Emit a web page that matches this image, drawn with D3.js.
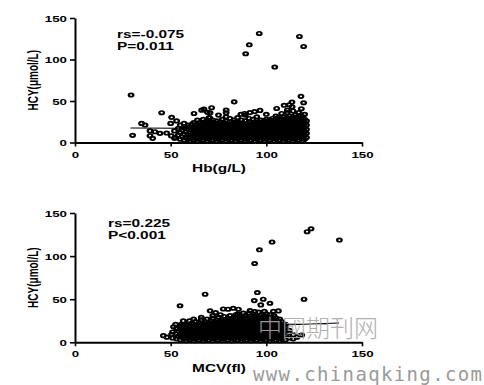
<!DOCTYPE html>
<html><head><meta charset="utf-8">
<script src="https://cdn.jsdelivr.net/npm/d3@7/dist/d3.min.js"></script>
<style>body{margin:0;background:#fff}svg{display:block}</style>
</head><body>
<script>
const xTicks = [0, 50, 100, 150];
const yTicks = [0, 50, 100, 150];

// Panel 1: Hb (g/L) vs HCY (µmol/L) — dense cluster, grouped by Hb value
const hbCluster = [
 [52,[5,14]],[54,[9,17]],[55,[4,12,21]],[56,[7,15]],[57,[3,10,18,23]],[58,[6,13,19]],
 [59,[4,9,16,21]],[60,[2,7,12,18]],[61,[5,10,15,22]],[62,[3,8,13,19,24]],[63,[6,11,16,21]],
 [64,[2,7,12,17,22,27]],[65,[4,9,14,19,24]],[66,[6,10,15,20]],[67,[3,8,13,18,23,28]],
 [68,[5,10,14,19,25]],[69,[2,7,12,17,21]],[70,[4,9,14,18,23,30]],[71,[6,11,15,20,25]],
 [72,[3,8,13,17,22,27]],[73,[5,10,14,19,24]],[74,[2,7,12,16,21,26]],[75,[4,9,13,18,23,33]],
 [76,[6,11,15,20,25]],[77,[3,8,12,17,22,28]],[78,[5,10,14,19,24]],[79,[2,7,11,16,21,26,31]],
 [80,[4,9,13,18,23]],[81,[6,11,15,20,25,29]],[82,[3,8,12,17,22]],[83,[5,10,14,19,24,27]],
 [84,[2,7,11,16,21,25]],[85,[4,9,13,18,23,30]],[86,[6,11,15,20,24]],[87,[3,8,12,17,22,27]],
 [88,[5,10,14,19,23]],[89,[2,7,11,16,21,26,33]],[90,[4,9,13,18,23]],[91,[6,11,15,20,25,29]],
 [92,[3,8,12,17,22]],[93,[5,10,14,19,24,28]],[94,[2,7,11,16,21,25]],[95,[4,9,13,18,23,31]],
 [96,[6,11,15,20,25]],[97,[3,8,12,17,22,27]],[98,[5,10,14,19,24]],[99,[2,7,11,16,21,26]],
 [100,[4,9,13,18,23,28,34]],[101,[6,11,15,20,25]],[102,[3,8,12,17,22,27]],[103,[5,10,14,19,24,29]],
 [104,[2,7,11,16,21,26]],[105,[4,9,13,18,23,28,32]],[106,[6,11,15,20,25,30]],[107,[3,8,12,17,22,27]],
 [108,[5,10,14,19,24,29,35]],[109,[2,7,11,16,21,26,31]],[110,[4,9,13,18,23,28]],
 [111,[6,11,15,20,25,30,36]],[112,[3,8,12,17,22,27,32]],[113,[5,10,14,19,24,29]],
 [114,[2,7,11,16,21,26,31,38]],[115,[4,9,13,18,23,28,33]],[116,[6,11,15,20,25,30]],
 [117,[3,8,12,17,22,27,32,36]],[118,[5,10,14,19,24,29,33]],[119,[2,7,11,16,21,26,31]],
 [120,[4,9,13,18,23,28,34]],[121,[6,11,16,21,26]]
];
const hbOutliers = [
 [29.3,57.2],[30.1,8.6],[34.8,23],[36.6,21],[39.2,14],[41.8,13],[44.4,11],[40.6,5],[39.2,8.2],
 [45.3,35.9],[47.9,11.4],[50.3,8],[50,23],[50.5,30.3],[53.1,26],[52.5,6],
 [62.2,35],[66.2,39],[67.4,40.3],[71.4,41.9],[69.2,36.3],[70.6,35.9],[70.4,29.9],[69.5,27.1],
 [79,39],[79,35.9],[83.2,49],[86.7,34],[88.6,35],[91.4,36],[93.9,37.3],[96.7,38.7],
 [105.4,41],[109.3,44.8],[111,39],[112,45.5],[113.4,48.7],[113.5,43],[118.3,40.7],
 [118.1,55.6],[119.5,47.9],[89.2,106.9],[91.1,117.7],[96.3,131.4],[117.3,127.8],
 [119.5,115.7],[104.4,90.9]
];
const hbFit = [[29, 17.5], [121, 16.3]];

// Panel 2: MCV (fl) vs HCY (µmol/L)
const mcvCluster = [
 [48,[6]],[51,[5,12]],[53,[4,10,16]],[54,[7,13]],[55,[3,9,15,19]],[56,[6,12,17]],
 [57,[4,9,14,20]],[58,[2,7,12,17]],[59,[5,10,15,21]],[60,[3,8,13,18]],[61,[6,11,16,22]],
 [62,[2,7,12,17,21]],[63,[4,9,14,19,24]],[64,[6,11,16,21]],[65,[3,8,13,18,23]],
 [66,[5,10,15,20,26]],[67,[2,7,12,17,22]],[68,[4,9,14,19,24]],[69,[6,11,16,21,27]],
 [70,[3,8,13,18,23]],[71,[5,10,15,20,25]],[72,[2,7,12,17,22,28]],[73,[4,9,14,19,24]],
 [74,[6,11,16,21,26]],[75,[3,8,13,18,23,29]],[76,[5,10,15,20,25]],[77,[2,7,12,17,22,27]],
 [78,[4,9,14,19,24,30]],[79,[6,11,16,21,26]],[80,[3,8,13,18,23,28]],[81,[5,10,15,20,25,31]],
 [82,[2,7,12,17,22,27]],[83,[4,9,14,19,24,29]],[84,[6,11,16,21,26]],[85,[3,8,13,18,23,28,33]],
 [86,[5,10,15,20,25,30]],[87,[2,7,12,17,22,27]],[88,[4,9,14,19,24,29]],[89,[6,11,16,21,26,31]],
 [90,[3,8,13,18,23,28]],[91,[5,10,15,20,25,30,34]],[92,[2,7,12,17,22,27]],
 [93,[4,9,14,19,24,29,33]],[94,[6,11,16,21,26,31]],[95,[3,8,13,18,23,28]],
 [96,[5,10,15,20,25,30,35]],[97,[2,7,12,17,22,27,32]],[98,[4,9,14,19,24,29]],
 [99,[6,11,16,21,26,31]],[100,[3,8,13,18,23,28,33]],[101,[5,10,15,20,25,30]],
 [102,[2,7,12,17,22,27,32]],[103,[4,9,14,19,24,29]],[104,[6,11,16,21,26,31]],
 [105,[3,8,13,18,23,28]],[106,[5,10,15,20,25]],[107,[2,7,12,17,22,27]],[108,[4,9,14,19,24]],
 [109,[6,11,16,20]],[110,[3,8,13,17]],[112,[5,11]],[114,[4,9]],[116,[6]],[118,[8]]
];
const mcvOutliers = [
 [46.2,7.7],[50.5,9.3],[52.6,20.9],[51.5,18],[54.9,42.4],[56.6,24.8],[59.8,24.8],[55.5,21],[58,21],
 [68,55.8],[70.6,36.5],[73.5,34.5],[77.5,38.7],[80,38.4],[82.7,39.5],[85.4,38.4],
 [91.5,36.7],[94,35.6],[93.7,48.4],[98.4,50],[101.9,45.3],[97.1,43.4],[103.7,36],[106.3,36.4],
 [95.3,57.7],[119.7,50],[93.9,91.4],[96.4,107.3],[103,116.3],[121.3,128.3],[123.4,131.7],
 [138.2,118.6],[118.5,8.5],[112,14],[110,21],
 [62,27],[66,29],[72,31],[76,32],[84,32],[88,34],[99,36]
];
const mcvFit = [[58, 16], [138, 22.4]];

const panels = [
 {cluster: hbCluster, outliers: hbOutliers, fit: hbFit, xTitle: "Hb(g/L)",
  stats: ["rs=-0.075", "P=0.011"], yTop: 18, yBot: 142.5, statX: 117, statY: 37.5},
 {cluster: mcvCluster, outliers: mcvOutliers, fit: mcvFit, xTitle: "MCV(fl)",
  stats: ["rs=0.225", "P<0.001"], yTop: 213, yBot: 342.3, statX: 108, statY: 226.5}
];

const SX = 1.4;
const FONT = "'Liberation Sans', Arial, sans-serif";
const svg = d3.select("body").append("svg").attr("width", 484).attr("height", 385);
svg.append("rect").attr("width", 484).attr("height", 385).attr("fill", "#fff");

panels.forEach(p => {
  const x = d3.scaleLinear().domain([0, 150]).range([75, 362]);
  const y = d3.scaleLinear().domain([0, 150]).range([p.yBot, p.yTop]);
  const g = svg.append("g");

  const pts = [];
  p.cluster.forEach(([xv, ys]) => ys.forEach(yv => pts.push([xv, yv])));
  p.outliers.forEach(d => pts.push(d));

  g.append("g").selectAll("circle").data(pts).join("circle")
    .attr("r", 1.7)
    .attr("transform", d => `translate(${x(d[0])},${y(d[1])}) scale(1.35,1)`)
    .attr("fill", "none").attr("stroke", "#000").attr("stroke-width", 1.7);

  g.append("path").datum(p.fit)
    .attr("d", d3.line().x(d => x(d[0])).y(d => y(d[1])))
    .attr("stroke", "#000").attr("stroke-width", 1.2).attr("fill", "none");

  const ya = g.append("g").attr("transform", `translate(${x(0)},0)`)
    .call(d3.axisLeft(y).tickValues(yTicks).tickSize(5).tickSizeOuter(0));
  const xa = g.append("g").attr("transform", `translate(0,${y(0)})`)
    .call(d3.axisBottom(x).tickValues(xTicks).tickSize(4).tickSizeOuter(0));
  [ya, xa].forEach(a => {
    a.select(".domain").attr("stroke-width", 2);
    a.selectAll(".tick line").attr("stroke-width", 1.6);
    a.selectAll("text").attr("font-family", FONT).attr("font-weight", "bold")
      .attr("font-size", 9.5).attr("fill", "#000").attr("x", null).attr("y", null).attr("dy", null);
  });
  ya.selectAll("text").attr("text-anchor", "end").attr("transform", `translate(-8,3.4) scale(${SX},1)`);
  xa.selectAll("text").attr("text-anchor", "middle").attr("transform", `translate(0,15) scale(${SX},1)`);

  g.append("text").text(p.xTitle)
    .attr("transform", `translate(219,${y(0) + 29.5}) scale(${SX},1)`)
    .attr("text-anchor", "middle").attr("font-family", FONT).attr("font-weight", "bold").attr("font-size", 11);

  g.append("text").text("HCY(μmol/L)")
    .attr("transform", `translate(37.5,${(p.yTop + p.yBot) / 2 + 0}) scale(${SX},1) rotate(-90)`)
    .attr("text-anchor", "middle").attr("font-family", FONT).attr("font-weight", "bold").attr("font-size", 10);

  p.stats.forEach((s, i) => {
    g.append("text").text(s)
      .attr("transform", `translate(${p.statX},${p.statY + i * 12}) scale(${SX},1)`)
      .attr("font-family", FONT).attr("font-weight", "bold").attr("font-size", 11);
  });
});

// watermark
svg.append("text").text("中國期刊网").attr("x", 258).attr("y", 337)
  .attr("font-family", "'Noto Sans CJK SC'").attr("font-weight", 300).attr("font-size", 24)
  .attr("textLength", 120).attr("fill", "#a8a8a8").attr("opacity", 0.9);
svg.append("text").text("www.chinaqking.com").attr("x", 253).attr("y", 381)
  .attr("font-family", "'DejaVu Sans Mono', monospace").attr("font-size", 19)
  .attr("textLength", 229).attr("fill", "#9a9a9a");
</script>
</body></html>
